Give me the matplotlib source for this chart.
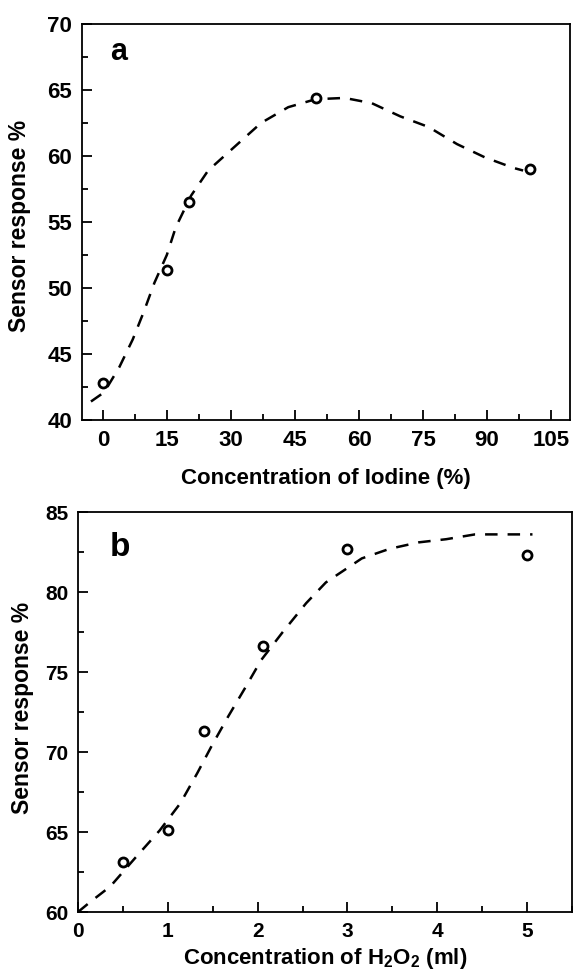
import numpy as np
import matplotlib
matplotlib.use('Agg')
import matplotlib.pyplot as plt
from matplotlib.ticker import MultipleLocator

plt.rcParams['font.family'] = ['Liberation Sans', 'DejaVu Sans']
plt.rcParams['font.weight'] = 'bold'
plt.rcParams['mathtext.default'] = 'regular'

# panel a: iodine concentration
iodine_x = [0, 15, 20, 50, 100]
iodine_y = [42.8, 51.4, 56.5, 64.4, 59.0]
# dashed fit
iodine_fit_x = [-2.9, 0.2, 3.75, 6.9, 9.5, 12.0, 14.9, 17.0, 20.6, 24.6, 30.8,
                37.0, 43.4, 49.8, 56.6, 63.0, 69.7, 76.3, 83.0, 89.5, 96.2, 98.5]
iodine_fit_y = [41.4, 42.1, 44.0, 46.1, 48.2, 50.4, 52.5, 54.6, 57.0, 58.9, 60.7,
                62.5, 63.7, 64.3, 64.4, 64.0, 63.0, 62.2, 60.9, 59.9, 59.1, 58.9]

# panel b: H2O2 volume
h2o2_x = [0.5, 1.0, 1.4, 2.06, 3.0, 5.0]
h2o2_y = [63.1, 65.1, 71.3, 76.6, 82.7, 82.3]
h2o2_fit_x = [0.0, 0.13, 0.36, 0.64, 0.91, 1.14, 1.33, 1.49, 1.67, 1.86, 2.04,
              2.28, 2.54, 2.76, 2.84, 3.16, 3.47, 3.79, 4.10, 4.42, 4.73, 5.06]
h2o2_fit_y = [60.0, 60.6, 61.6, 63.4, 65.1, 66.8, 68.7, 70.4, 72.2, 74.0, 75.75,
              77.5, 79.3, 80.6, 80.9, 82.1, 82.7, 83.1, 83.3, 83.6, 83.6, 83.6]

fig = plt.figure(figsize=(5.74, 9.73), dpi=100)
ax1 = fig.add_axes([82/574, 1 - 420/973, 488/574, 396/973])
ax2 = fig.add_axes([78/574, 1 - 912/973, 494/574, 400/973])


def style(ax, ticksize):
    for s in ax.spines.values():
        s.set_linewidth(1.3)
    ax.tick_params(which='both', direction='in', width=1.3, labelsize=ticksize)
    ax.tick_params(which='major', length=7, pad=7)
    ax.tick_params(which='minor', length=4)
    ax.tick_params(axis='y', which='both', right=False)
    ax.tick_params(axis='x', which='both', top=False)


# panel a
ax1.plot(iodine_fit_x, iodine_fit_y, color='black', lw=1.8, dashes=(5, 4))
ax1.plot(iodine_x, iodine_y, 'o', mfc='white', mec='black', ms=6.5, mew=2)
ax1.set_xlim(-5, 109.5)
ax1.set_ylim(40, 70)
ax1.xaxis.set_major_locator(MultipleLocator(15))
ax1.xaxis.set_minor_locator(MultipleLocator(7.5))
ax1.yaxis.set_major_locator(MultipleLocator(5))
ax1.yaxis.set_minor_locator(MultipleLocator(2.5))
style(ax1, 16)
ax1.set_xlabel('Concentration of Iodine (%)', fontsize=16, fontweight='bold')
ax1.set_ylabel('Sensor response %', fontsize=16.5, fontweight='bold')
ax1.xaxis.set_label_coords(0.5, -0.12)
ax1.yaxis.set_label_coords(-0.105, 0.49)
ax1.text(0.076, 0.93, 'a', transform=ax1.transAxes, fontsize=22,
         fontweight='bold', ha='center', va='center')

# panel b
ax2.plot(h2o2_fit_x, h2o2_fit_y, color='black', lw=1.8, dashes=(5, 4))
ax2.plot(h2o2_x, h2o2_y, 'o', mfc='white', mec='black', ms=6.5, mew=2)
ax2.set_xlim(0, 5.5)
ax2.set_ylim(60, 85)
ax2.xaxis.set_major_locator(MultipleLocator(1))
ax2.xaxis.set_minor_locator(MultipleLocator(0.5))
ax2.yaxis.set_major_locator(MultipleLocator(5))
ax2.yaxis.set_minor_locator(MultipleLocator(2.5))
style(ax2, 15)
ax2.set_xlabel('Concentration of H$_2$O$_2$ (ml)', fontsize=16, fontweight='bold')
ax2.set_ylabel('Sensor response %', fontsize=16.5, fontweight='bold')
ax2.xaxis.set_label_coords(0.5, -0.086)
ax2.yaxis.set_label_coords(-0.09, 0.51)
ax2.text(0.085, 0.91, 'b', transform=ax2.transAxes, fontsize=24,
         fontweight='bold', ha='center', va='center')

fig.savefig('out.png', dpi=100)
